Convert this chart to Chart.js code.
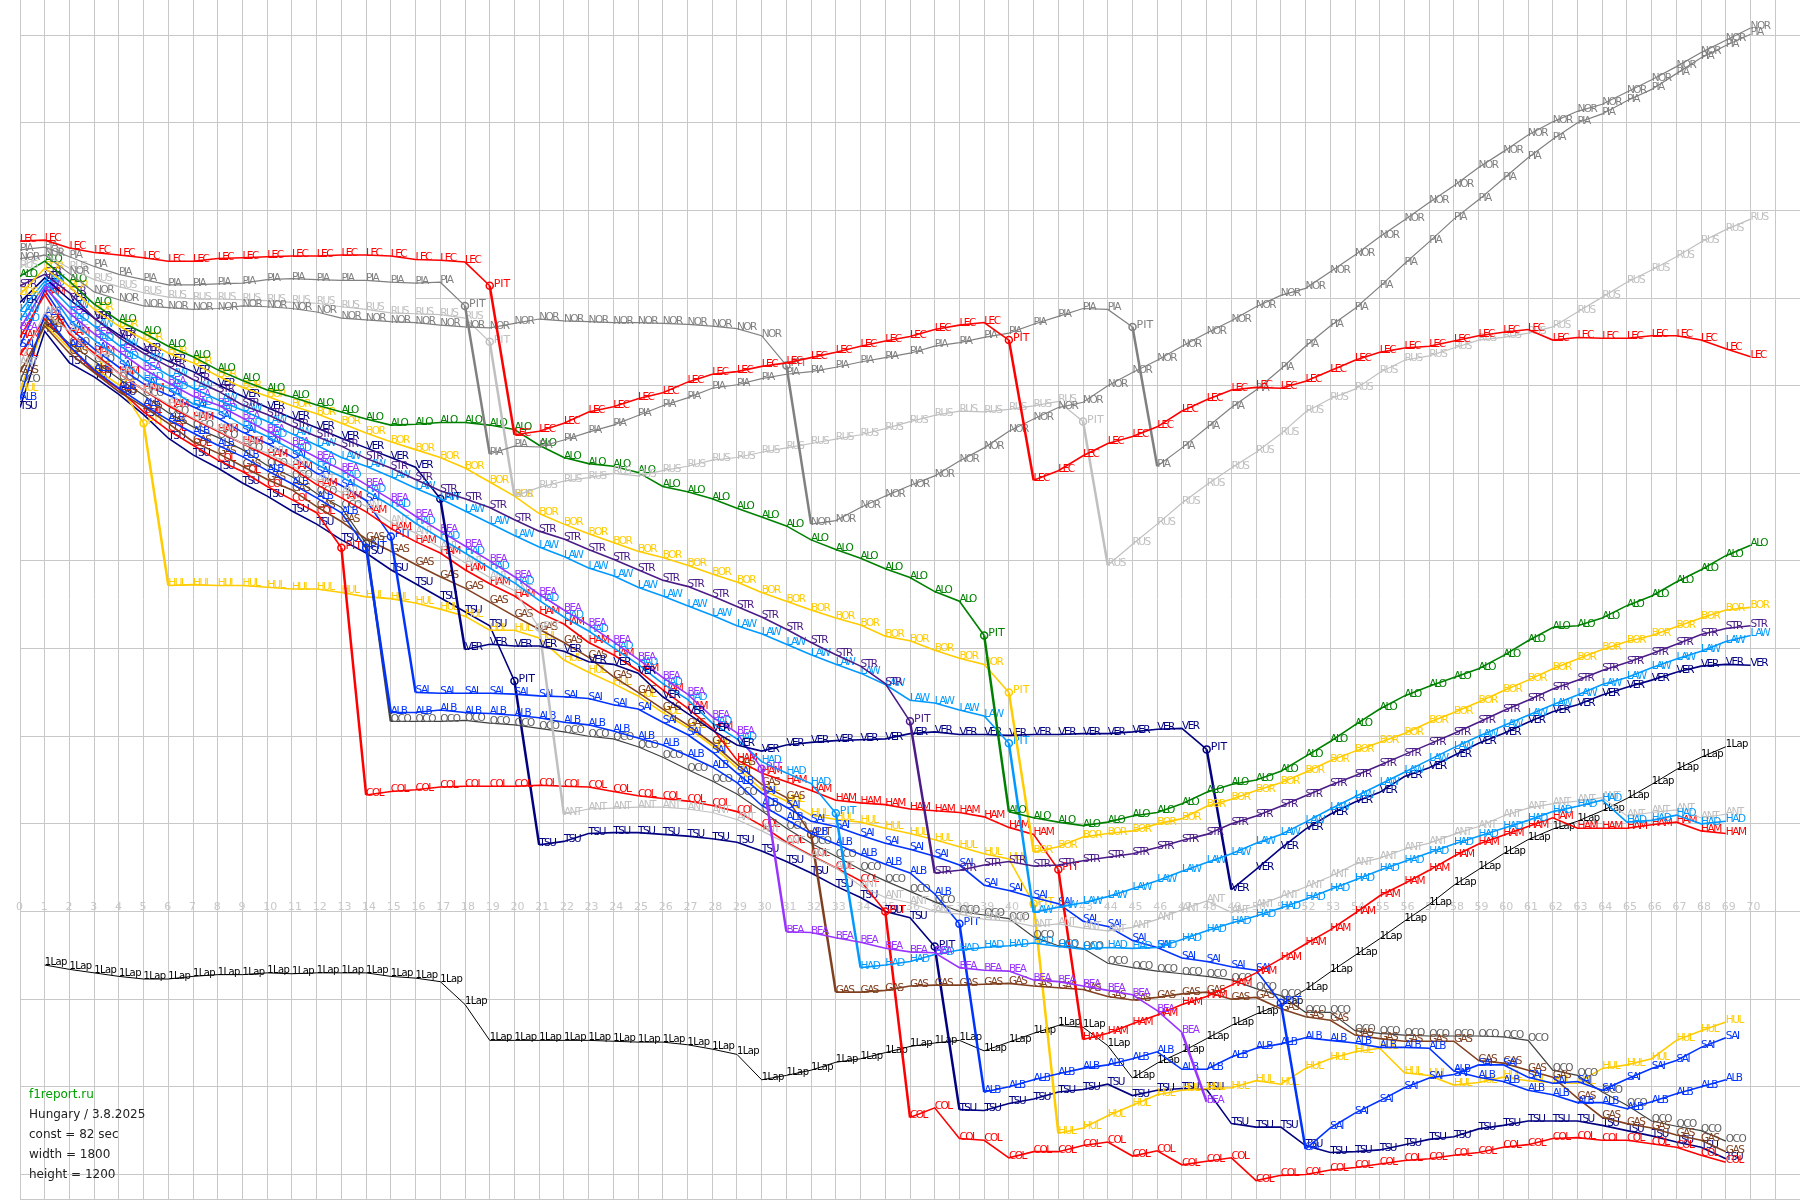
<!DOCTYPE html>
<html>
<head>
<meta charset="utf-8">
<title>Hungary 3.8.2025</title>
<style>
body { margin: 0; background: #fff; }
canvas { display: block; }
</style>
<script src="https://cdn.jsdelivr.net/npm/chart.js@4"></script>
</head>
<body>
<canvas id="raceChart" width="1800" height="1200"></canvas>
<script>
// gap to a constant 82 sec lap, in seconds, one value per lap from lap 0
const LEC = [106.5,106.6,105.7,105.2,104.9,104.6,104.2,104.2,104.5,104.6,104.7,104.8,104.8,104.9,104.9,104.8,104.4,104.3,104.1,101.4,84.4,84.8,85.7,87,87.6,88.5,89.2,90.4,91.3,91.6,92.2,92.6,93.2,93.8,94.5,95.1,95.6,96.4,96.9,97.2,95.2,79.2,80.3,82,83.4,84.2,85.3,87.1,88.4,89.5,89.8,89.7,90.5,91.7,92.9,93.8,94.3,94.5,95.1,95.7,96.1,96.4,95.2,95.5,95.4,95.4,95.7,95.7,95.2,94.2,93.3];
const PIA = [105.5,105.8,104.7,103.6,102.7,102.1,101.5,101.5,101.6,101.7,102.1,102.2,102.1,102,102,101.8,101.7,101.8,99.1,82.2,83.1,83,83.8,84.7,85.5,86.6,87.7,88.6,89.7,90.1,90.8,91.3,91.6,92.1,92.7,93.2,93.7,94.5,94.9,95.5,96,97,97.9,98.8,98.7,96.7,80.8,82.9,85.2,87.5,89.5,91.9,94.5,96.8,98.8,101.3,103.9,106.4,109,111.2,113.6,116,118.1,120,121,122.5,123.8,125.6,127.4,128.8,130.1];
const NOR = [104.5,104.9,102.8,100.7,99.8,99.1,98.9,98.7,98.8,99.1,99,98.8,98.4,97.7,97.5,97.3,97.2,96.9,96.7,96.6,97.1,97.6,97.4,97.3,97.2,97.2,97.1,97,96.8,96.5,95.7,92.3,74.2,74.6,76.1,77.4,78.6,79.7,81.4,82.9,84.8,86.2,87.5,88.1,90,91.5,92.9,94.5,96,97.4,99,100.3,101.1,103,104.9,107,108.9,110.9,112.8,114.9,116.7,118.6,120.1,121.3,122.1,123.5,124.9,126.4,128,129.4,130.8];
const RUS = [103.5,105,103.4,102.1,101.3,100.6,100.1,99.9,99.9,99.8,99.7,99.5,99.4,99,98.7,98.3,98.2,98.1,97.7,95,77.4,78.4,79.1,79.5,80,79.7,80.3,80.8,81.5,81.8,82.4,82.9,83.4,83.9,84.4,85.1,85.9,86.6,87.1,87,87.3,87.7,88.2,85.9,69.5,71.9,74.2,76.6,78.7,80.6,82.4,84.5,87,88.5,89.6,91.5,92.9,93.4,94.3,95.2,95.5,96,96.7,98.4,100.1,101.8,103.2,104.7,106.4,107.8,109];
const ALO = [102.5,104.2,101.9,99.3,97.4,96,94.5,93.3,91.8,90.6,89.5,88.7,87.8,87,86.2,85.5,85.6,85.8,85.8,85.5,85,83.2,81.8,81.1,80.8,80.1,78.5,77.9,77.1,76,75,74,72.4,71.3,70.3,69.1,68.1,66.5,65.4,61.5,41.4,40.7,40.2,39.8,40.2,40.9,41.3,42.3,43.6,44.5,45,46,47.7,49.4,51.3,53.1,54.6,55.7,56.7,57.7,59.2,60.9,62.4,62.6,63.5,64.9,66,67.6,69,70.6,71.8];
const BOR = [100.4,103.4,101.3,98.7,96.8,95.3,93.7,92.6,91.1,89.8,88.8,87.7,86.8,85.7,84.6,83.6,82.7,81.8,80.6,79,77.4,75.4,74.2,73.1,72.1,71.1,70.4,69.5,68.5,67.6,66.4,65.4,64.4,63.5,62.7,61.4,60.9,59.8,58.9,58.2,55,36.8,37.4,38.5,38.9,39.2,40,40.6,42,42.8,43.8,44.7,45.9,47.2,48.3,49.3,50.3,51.6,52.7,53.9,55.2,56.4,57.7,58.8,59.9,60.8,61.5,62.5,63.5,64.4,64.7];
const STR = [101.4,102.7,100.6,97.7,95.5,93.7,92.2,90.7,89.4,87.8,86.7,85.4,84.2,83.1,81.7,80.6,79.3,78,77.1,76.1,74.7,73.4,72.5,71.3,70.2,69,67.8,67.1,66,64.8,63.6,62.2,60.7,59.3,58,56,51.7,34.4,34.7,35.3,35.7,35.2,35.3,35.8,36.2,36.6,37.3,38.1,38.8,40,40.9,42,43.2,44.4,45.5,46.7,47.9,49.1,50.3,51.6,52.9,54.1,55.4,56.4,57.5,58.4,59.4,60.5,61.6,62.3,62.6];
const LAW = [98.5,101.9,99,96.8,94.6,92.9,91.2,89.7,88.4,87.2,85.9,84.5,83.2,81.8,80.8,79.6,78.3,77.1,75.7,74.3,72.9,71.6,70.5,69.2,68.3,67,66,64.9,63.8,62.6,61.7,60.5,59.3,58.2,57.2,55.9,54.1,53.8,53,52.3,49.2,29.9,30.5,31,31.7,32.6,33.5,34.6,35.6,36.6,37.8,38.8,40.2,41.7,43.1,44.5,45.9,47.3,48.7,50,51.2,52.4,53.6,54.7,55.9,56.7,57.8,58.8,59.7,60.8,61.5];
const VER = [99.5,102.3,99.8,97.7,95.8,94.1,92.8,91.6,90.1,88.8,87.5,86.3,85.2,84,82.9,81.8,80.7,77.1,59.9,60.5,60.3,60.3,59.7,58.5,58.2,57.2,54.5,52.6,50.7,49,48.3,49,49.3,49.5,49.6,49.7,50.3,50.5,50.2,50.2,50.1,50.2,50.2,50.3,50.3,50.5,50.8,50.9,48.5,32.5,34.8,37.2,39.4,41.1,42.5,43.6,45.4,46.4,47.8,49.2,50.3,51.6,52.8,53.6,54.7,55.6,56.4,57.3,58,58.2,58.1];
const BEA = [96.5,101.2,98.3,95.9,93.9,91.9,90.3,88.8,87.8,86.3,84.8,83.3,81.8,80.4,78.7,77,75.1,73.4,71.7,70,68.2,66.2,64.4,62.7,60.8,58.8,56.7,54.8,52.2,50.4,46.3,27.7,27.6,27,26.5,25.8,25.4,25.3,23.6,23.3,23.2,22.2,22,21.5,21,20.5,18.7,16.2,8.3];
const HAD = [97.5,101.5,97.5,95.2,93.2,90.8,89.7,87.9,87.2,85.5,84.2,82.7,81,79.6,78,76.3,74.3,72.6,70.9,69.2,67.5,65.5,63.6,62,60.1,58.2,56,54.2,51.5,49.7,47.1,45.8,44.6,41.2,23.6,23.9,24.3,25.1,25.6,25.9,26.1,26.4,26,25.7,25.9,25.8,25.9,26.8,27.8,28.7,29.5,30.4,31.4,32.5,33.6,34.7,35.7,36.7,37.7,38.6,39.5,40.4,41.4,42,42.7,40.2,40.4,41,40,40.3];
const ANT = [92.5,98.3,96.2,93.4,91.4,89.5,87.9,86.3,84.9,83.4,82.3,80.9,79.1,77.8,76.2,74.4,73.2,71.5,69.8,68.1,66.6,62.4,41.1,41.7,41.8,41.9,41.9,41.7,41.3,40.5,39.2,37.8,36.3,35,32.9,31.6,31,30,29.7,29.1,28.9,28.3,28.6,28.1,27.8,28.2,29.1,30.2,31.2,29.9,30.6,31.7,32.8,34,35.4,36.1,37.1,37.8,38.8,39.7,40.9,41.8,42.3,42.6,43,40.9,41.3,41.6,40.7,41.1];
const HAM = [95.5,100.4,95.9,93.7,91.4,89.5,87.7,86.2,84.8,83.4,82,80.6,78.7,77.2,75.6,73.7,72.2,70.9,69,67.4,66,64.1,62.8,60.7,59.3,57.5,55.3,53.2,50.9,47.3,45.8,44.8,43.8,42.7,42.4,42.2,41.7,41.5,41.3,40.8,39.6,38.8,34.8,15.4,16.1,17.2,18.2,19.4,20.3,21.6,23,24.6,26.3,27.9,29.8,31.8,33.2,34.7,36.3,37.7,38.7,39.7,40.7,39.5,39.5,39.5,39.9,40.2,39.2,38.9];
const SAI = [94.5,100.9,96.6,94.2,92.1,90.2,88.9,87.6,86.3,84.7,83.4,81.9,80,78.6,76.9,72.8,55,54.9,54.9,54.9,54.8,54.6,54.5,54.3,53.6,53.1,51.6,50.2,48.2,45.8,43.5,41.9,40.3,39.7,38.7,37.8,37.1,36.3,35.3,33,32.4,31.6,30.9,28.9,28.3,26.7,25.9,24.7,24.3,23.7,23.3,19.6,2.9,5.3,7,8.4,9.9,11,11.4,12.5,12.5,11.1,10.4,10.6,9.6,10.9,12.1,13,14.5,15.6];
const ALB = [88.5,98.2,94.5,91.8,89.7,87.8,86.1,84.6,83.2,81.9,80.3,78.8,77.2,75.5,71.5,52.7,52.7,53,52.7,52.6,52.4,52.1,51.6,51.3,50.6,49.8,49,47.8,46.5,44.7,42.1,40.5,38.9,37.7,36.5,35.4,34.4,32,28.6,9.4,10,10.8,11.5,12.1,12.5,13.2,14,12,12,13.4,14.4,14.9,15.6,15.3,15,14.5,14.5,14.4,11.8,11.1,10.6,9.6,9.1,8.2,8.2,7.5,8.3,9.2,10,10.8];
const GAS = [91.5,96.8,93.7,91.5,89.3,87.6,85.7,83.6,82.3,80.8,79.3,78.1,76.2,74.5,72.5,71.1,69.6,68.2,66.9,65.3,63.7,62.2,60.7,59,56.8,55,53.1,51.3,49.2,46.8,44.5,43,38.8,20.8,20.8,21,21.5,21.6,21.6,21.7,21.8,21.5,21.3,21.1,20.3,19.9,20.2,20.6,20.8,20,20.2,18.9,18,17.6,15.9,15.5,15.2,15.2,15.2,13,12.7,11.9,11.1,8.7,6.5,5.8,5.3,4.5,3.9,2.6];
const OCO = [90.5,97.2,94.8,92.8,90.8,88.9,86.9,85.3,84.1,82.7,80.9,79.6,77.7,76.1,72,51.7,51.7,51.7,51.8,51.5,51.3,50.9,50.5,50,49.7,48.8,47.6,46.2,44.9,43.4,41.5,39.5,37.8,36.3,34.8,33.5,32.3,31.1,30,29.6,29.2,27.1,26.1,25.8,24.1,23.6,23.2,22.9,22.6,22.2,21.2,20.4,18.5,18.5,16.4,16.1,15.9,15.8,15.8,15.8,15.7,15.3,11.9,11.3,9.4,7.9,6.1,5.5,5,3.8];
const COL = [93.5,97.6,94.5,91.6,89.6,87,84.9,83.2,81.5,80.2,78.5,77,75.5,71.5,43.3,43.7,43.9,44.2,44.3,44.3,44.3,44.4,44.3,44.2,43.7,43.2,42.9,42.6,42.1,41.4,39.8,37.9,36.4,35,33.5,30,6.5,7.6,4.1,3.9,1.9,2.6,2.6,3.3,3.7,2.1,2.7,1.1,1.5,1.9,-0.7,-0.1,0,0.5,0.8,1.2,1.6,1.8,2.2,2.5,3.1,3.4,4.1,4.2,3.9,3.9,3.5,3.1,2.2,1.4];
const HUL = [89.5,97,94.2,92,90.1,85.7,67.2,67.3,67.2,67.2,67,66.8,66.8,66.4,65.9,65.7,65.2,64.5,63.7,62.1,62.1,61.2,58.7,57.3,56,54.6,52.7,51,48.9,46.4,43.9,42.6,41,40.5,40.2,39.5,38.9,38.2,37.4,36.6,36,30.9,4.7,5.3,6.7,7.9,9.1,9.6,9.8,9.9,10.7,10.3,12.1,13.2,14,14.4,11.6,11.3,10.2,10.5,11.1,10.7,10.5,10.4,12.1,12.5,13.2,15.3,16.4,17.4];
const TSU = [87.5,96.2,92.6,91,89,86.7,84,82.1,80.6,78.9,77.4,75.7,74.2,72.4,70.9,69,67.4,65.8,64.2,62.6,56.3,37.6,38,38.9,39,39,38.8,38.6,38.3,37.9,36.9,35.7,34.4,32.9,31.6,30,29.3,26,7.4,7.3,8.1,8.6,9.4,9.7,10.3,9,9.6,9.8,9.7,5.8,5.4,5.4,3.3,2.5,2.6,2.8,3.4,4,4.3,5.2,5.6,6.1,6.1,6.1,5.6,5,4.4,3.7,3.1,1.8];
const oneLap = [null,23.9,23.4,23,22.6,22.3,22.3,22.6,22.8,22.8,23,22.9,23,23,23,22.6,22.4,22,19.4,15.3,15.3,15.3,15.3,15.3,15.2,15.1,15.1,14.8,14.3,13.7,10.8,11.3,11.9,12.8,13.2,13.9,14.6,15,15.3,14.1,15.1,16.1,17,16.8,14.7,11,12.7,14,15.5,17,18.3,19.4,21.1,23.1,25,26.9,28.9,30.8,33,34.8,36.6,38.2,39.4,40.3,41.5,42.9,44.5,46.2,47.6,48.8];

const lapTicks = Array.from({ length: 71 }, (_, i) => String(i));
const infoLines = ['f1report.ru', 'Hungary / 3.8.2025', 'const = 82 sec', 'width = 1800', 'height = 1200'];

// name, values, colour, pit laps
const drivers = [
    ['LEC', LEC, '#ff0000', [19, 40]],
    ['PIA', PIA, '#808080', [18, 45]],
    ['NOR', NOR, '#808080', [31]],
    ['RUS', RUS, '#c0c0c0', [19, 43]],
    ['ALO', ALO, '#008000', [39]],
    ['BOR', BOR, '#ffcc00', [40]],
    ['STR', STR, '#4b1c87', [36]],
    ['LAW', LAW, '#0099ff', [40]],
    ['VER', VER, '#000080', [17, 48]],
    ['BEA', BEA, '#9933ff', [30]],
    ['HAD', HAD, '#0099ff', [33]],
    ['ANT', ANT, '#c0c0c0', [21]],
    ['HAM', HAM, '#ff0000', [42]],
    ['SAI', SAI, '#0033ff', [15, 51]],
    ['ALB', ALB, '#0033ff', [14, 38]],
    ['GAS', GAS, '#804020', [32]],
    ['OCO', OCO, '#404040', [14]],
    ['COL', COL, '#ff0000', [13, 35]],
    ['HUL', HUL, '#ffcc00', [5, 41]],
    ['TSU', TSU, '#000080', [20, 37]],
    ['1Lap', oneLap, '#000000', []]
];

const lineWidth = { '1Lap': 1, PIA: 1.2, NOR: 1.2, RUS: 1.2, ANT: 1.2, OCO: 1.2 };
const gridColor = '#c8c8c8';

function pitSegment(pits, base) {
    return ctx => (pits.includes(ctx.p0DataIndex) ? 2.5 : base);
}

const datasets = drivers.map(([name, values, color, pits]) => ({
    label: name,
    data: values.map((v, i) => ({ x: i, y: v })),
    pits: pits,
    borderColor: color,
    borderWidth: lineWidth[name] || 1.6,
    segment: {
        // BEA stops after lap 47 on a thick line, like an in-lap
        borderWidth: pitSegment(name === 'BEA' ? pits.concat(47) : pits, lineWidth[name] || 1.6)
    },
    tension: 0,
    fill: false,
    pointStyle: 'circle',
    pointRadius: ctx => (pits.includes(ctx.dataIndex) ? 3.5 : 0),
    pointBorderWidth: 1.5,
    pointBorderColor: color,
    pointBackgroundColor: 'transparent'
}));

const lapLabels = {
    id: 'lapLabels',
    beforeDatasetsDraw(chart) {
        const { ctx, scales } = chart;
        ctx.save();
        // the 100 sec line only starts around lap 16 in the original
        const y100 = Math.round(scales.y.getPixelForValue(100)) + 0.5;
        ctx.strokeStyle = gridColor;
        ctx.lineWidth = 1;
        ctx.beginPath();
        ctx.moveTo(scales.x.getPixelForValue(16), y100);
        ctx.lineTo(chart.chartArea.right, y100);
        ctx.stroke();

        ctx.font = '11px "DejaVu Sans"';
        ctx.fillStyle = gridColor;
        ctx.textBaseline = 'alphabetic';
        lapTicks.forEach((t, i) => {
            ctx.fillText(t, scales.x.getPixelForValue(i) - 4, scales.y.getPixelForValue(30) - 2);
        });
        ctx.restore();
    }
};

const pointLabels = {
    id: 'pointLabels',
    afterDatasetDraw(chart, args) {
        const { ctx, scales } = chart;
        const ds = chart.data.datasets[args.index];
        ctx.save();
        ctx.fillStyle = ds.label === 'OCO' ? '#606060' : ds.borderColor;
        ctx.textBaseline = 'alphabetic';
        ds.data.forEach((p, i) => {
            if (p.y === null) return;
            const px = scales.x.getPixelForValue(p.x);
            const py = scales.y.getPixelForValue(p.y);
            if (ds.pits.includes(i)) {
                ctx.letterSpacing = '0px';
                ctx.font = '11px "DejaVu Sans"';
                ctx.fillText('PIT', px + 4, py + 1);
            } else if (ds.label === '1Lap') {
                ctx.letterSpacing = '-0.6px';
                ctx.font = '10px "DejaVu Sans"';
                ctx.fillText(ds.label, px, py);
            } else {
                ctx.letterSpacing = '-1.5px';
                ctx.font = '10.5px "DejaVu Sans"';
                ctx.fillText(ds.label, px, py + 1);
            }
        });
        ctx.restore();
    }
};

const infoBox = {
    id: 'infoBox',
    afterDraw(chart) {
        const { ctx } = chart;
        ctx.save();
        ctx.font = '12px "DejaVu Sans"';
        ctx.textBaseline = 'middle';
        infoLines.forEach((line, i) => {
            ctx.fillStyle = i === 0 ? '#00a000' : '#222222';
            ctx.fillText(line, 29, 1095 + i * 20);
        });
        ctx.restore();
    }
};

new Chart(document.getElementById('raceChart').getContext('2d'), {
    type: 'line',
    data: { datasets: datasets },
    options: {
        responsive: false,
        animation: false,
        layout: { padding: { left: 20, bottom: 1 } },
        plugins: { legend: { display: false }, tooltip: { enabled: false } },
        scales: {
            x: {
                type: 'linear',
                min: 0,
                max: 72,
                grid: { color: gridColor, drawTicks: false },
                border: { display: true, color: gridColor },
                ticks: { display: false, stepSize: 1, autoSkip: false, includeBounds: false }
            },
            y: {
                type: 'linear',
                min: -2.8,
                max: 134,
                grid: {
                    color: ctx => (ctx.tick && ctx.tick.value === 100 ? 'transparent' : gridColor),
                    drawTicks: false
                },
                border: { display: true, color: gridColor },
                ticks: { display: false, stepSize: 10, includeBounds: false }
            }
        }
    },
    plugins: [lapLabels, pointLabels, infoBox]
});
</script>
</body>
</html>
